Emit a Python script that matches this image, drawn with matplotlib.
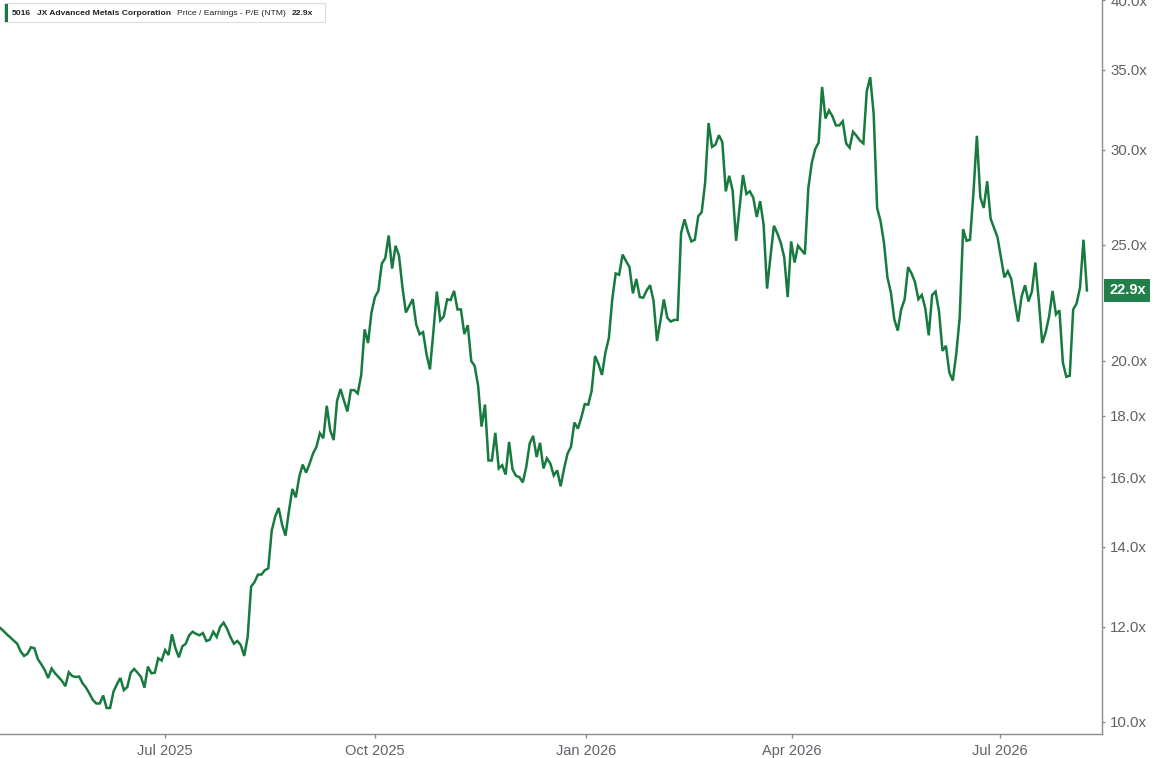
import numpy as np
import pandas as pd
import matplotlib
matplotlib.use("Agg")
import matplotlib.pyplot as plt
import matplotlib.dates as mdates
import matplotlib.transforms as mtransforms
from matplotlib.patches import Rectangle

plt.rcParams['font.family'] = ['Liberation Sans', 'DejaVu Sans']

# P/E (NTM) series (daily, oldest first)
start_date = '2025-04-20'
end_date = '2026-08-08'
pe_values = [
    11.98, 11.91, 11.83, 11.76, 11.69, 11.62, 11.45, 11.35, 11.40, 11.54,
    11.52, 11.28, 11.17, 11.05, 10.88, 11.08, 10.98, 10.90, 10.82, 10.71,
    11.00, 10.92, 10.90, 10.91, 10.77, 10.68, 10.56, 10.43, 10.36, 10.36,
    10.52, 10.27, 10.27, 10.60, 10.75, 10.88,
    10.63, 10.69, 10.99, 11.07, 10.99, 10.90, 10.68, 11.12, 10.98, 10.99,
    11.30, 11.25, 11.48, 11.37, 11.83, 11.52, 11.32, 11.56, 11.62, 11.81,
    11.89, 11.84, 11.81, 11.86, 11.68, 11.71, 11.89, 11.77, 12.00, 12.10,
    11.96, 11.77, 11.62, 11.68, 11.59, 11.35, 11.77,
    12.97, 13.08, 13.27, 13.27, 13.38, 13.43, 14.44, 14.83, 15.08, 14.61,
    14.30, 14.99, 15.64, 15.39, 16.01, 16.39, 16.14, 16.42, 16.74, 16.96,
    17.41, 17.24, 18.35, 17.50, 17.18, 18.53, 18.95, 18.53, 18.15, 18.91,
    18.91, 18.79, 19.46, 21.25, 20.70, 21.95, 22.61, 22.88, 24.11, 24.36,
    25.45, 23.88, 24.95, 24.48, 23.04,
    21.95, 22.23, 22.52, 21.45, 21.05, 21.14, 20.26, 19.68, 21.17, 22.85,
    21.62, 21.78, 22.51, 22.48, 22.88, 22.08, 22.08, 21.06, 21.42, 20.00,
    19.81, 19.07, 17.63, 18.39, 16.52, 16.52, 17.42, 16.27, 16.37, 16.08,
    17.12, 16.24, 16.04, 16.00, 15.84, 16.32, 17.07, 17.32, 16.63, 17.09,
    16.27, 16.59, 16.42, 16.05, 16.21, 15.72, 16.27, 16.74, 16.96, 17.77,
    17.56, 17.94, 18.41, 18.39, 18.88, 20.19, 19.88, 19.47, 20.32, 20.89,
    22.52, 23.66, 23.60, 24.53,
    24.23, 23.95, 22.77, 23.41, 22.61, 22.58, 22.90, 23.13, 22.45, 20.78,
    21.60, 22.51, 21.73, 21.57, 21.64, 21.64, 25.56, 26.25, 25.63, 25.16,
    25.24, 26.41, 26.61, 28.16, 31.58, 30.17, 30.30, 30.85, 30.45, 27.70,
    28.54, 27.74, 25.19, 26.83, 28.58, 27.56, 27.70, 27.36, 26.37, 27.18,
    25.98, 22.98, 24.44, 25.93, 25.55, 25.09, 24.40, 22.61, 25.16, 24.16,
    24.95, 24.75, 24.55, 27.87, 29.25, 30.04, 30.42, 33.85, 31.86, 32.36,
    32.00, 31.44, 31.44, 31.69, 30.37, 30.12, 31.06, 30.82, 30.54, 30.37,
    33.58, 34.49, 32.14, 26.83, 26.16, 25.09, 23.48, 22.81, 21.66, 21.20,
    22.08, 22.51, 23.95, 23.66, 23.28, 22.52, 22.70, 22.13, 21.01, 22.70,
    22.85, 21.99, 20.39, 20.59, 19.56, 19.26, 20.26, 21.73, 25.76, 25.19,
    25.24, 27.60, 30.82, 27.38, 26.83, 28.24, 26.28, 25.82, 25.36, 24.40,
    23.48, 23.76, 23.41, 22.42, 21.57, 22.63, 23.13, 22.42, 22.85, 24.16,
    22.46, 20.70, 21.13, 21.78, 22.88, 21.87, 22.04, 19.94, 19.40, 19.44,
    22.08, 22.33, 23.04, 25.24, 22.90,
]
last_value = 22.9

y_ticks = [10, 12, 14, 16, 18, 20, 25, 30, 35, 40]
y_tick_labels = [f"{v:.1f}x" for v in y_ticks]

legend_parts = ["5016", "JX Advanced Metals Corporation",
                "Price / Earnings - P/E (NTM)", "22.9x"]

green = '#177a3e'
gray = '#8c8c8c'
label_gray = '#5f6368'

dates = pd.date_range(start_date, end_date, periods=len(pe_values))

fig = plt.figure(figsize=(11.52, 7.58), dpi=100)
W, H = 1152, 758
ax = fig.add_axes([0, (H - 734) / H, 1102 / W, 734 / H])

ax.plot(dates, pe_values, color=green, lw=1.8, solid_joinstyle='miter')

ax.set_yscale('log')
ax.set_ylim(9.77, 39.9)
ax.set_xlim(pd.Timestamp(start_date), pd.Timestamp('2026-08-14 14:00'))
ax.yaxis.tick_right()
ax.set_yticks(y_ticks)
ax.set_yticklabels(y_tick_labels)
ax.yaxis.set_minor_locator(matplotlib.ticker.NullLocator())

ax.xaxis.set_major_locator(mdates.MonthLocator(bymonth=[1, 4, 7, 10]))
ax.xaxis.set_major_formatter(mdates.DateFormatter('%b %Y'))

for s in ['left', 'top']:
    ax.spines[s].set_visible(False)
for s in ['right', 'bottom']:
    ax.spines[s].set_color(gray)
    ax.spines[s].set_linewidth(1.0)

ax.tick_params(axis='y', which='major', length=2, width=1, color=gray,
               labelcolor=label_gray, labelsize=10.8, pad=4)
ax.tick_params(axis='x', which='major', length=3, width=1, color=gray,
               labelcolor=label_gray, labelsize=10.5, pad=4)

# last value badge on the right axis
trans = mtransforms.blended_transform_factory(ax.transAxes, ax.transData)
trans = mtransforms.offset_copy(trans, fig=fig, x=7, y=0, units='dots')
ax.text(1.0, last_value, f"{last_value:.1f}x", transform=trans,
        ha='left', va='center', color='white', fontsize=10.5, fontweight='bold',
        bbox=dict(boxstyle='square,pad=0.32', fc='#21804a', ec='none'),
        clip_on=False)

# legend in the top-left corner: texts chained left to right, box fitted after
legend_w = ['bold', 'bold', 'normal', 'bold']
renderer = fig.canvas.get_renderer()
px = 12
for txt, fw in zip(legend_parts, legend_w):
    t = fig.text(px / W, 1 - 13.3 / H, txt, fontsize=6.1, fontweight=fw,
                 color='#222222', ha='left', va='center', zorder=5)
    px += t.get_window_extent(renderer).width + 6
box_w = px - 6 + 12 - 4
fig.patches.append(Rectangle((4 / W, 1 - 22 / H), box_w / W, 19 / H,
                             transform=fig.transFigure, fc='white',
                             ec='#dddddd', lw=0.8, zorder=1))
fig.patches.append(Rectangle((5 / W, 1 - 21.5 / H), 2.5 / W, 18 / H,
                             transform=fig.transFigure, fc=green, ec='none',
                             zorder=2))

fig.savefig('out.png', dpi=100)
